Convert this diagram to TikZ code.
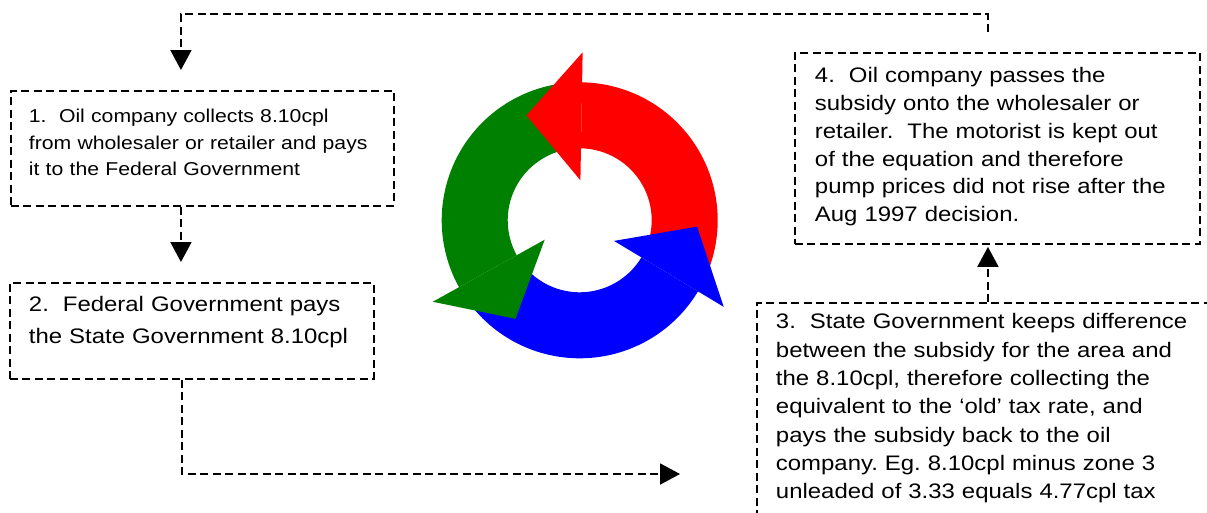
\documentclass[tikz,border=0pt]{standalone}
\usepackage{fontspec}
\setmainfont{Liberation Sans}[FakeStretch=1.14]
\usetikzlibrary{arrows.meta}
\definecolor{cyclered}{RGB}{255,0,0}
\definecolor{cyclegreen}{RGB}{0,128,0}
\definecolor{cycleblue}{RGB}{0,0,255}
\frenchspacing

\begin{document}
\begin{tikzpicture}[x=1pt, y=1pt,
    notebox/.style={draw, dash pattern=on 8pt off 4.5pt, line width=1.9pt, anchor=north west, align=left, inner ysep=0pt},
    link/.style={dash pattern=on 8pt off 4.5pt, line width=1.9pt, -{Triangle[width=21pt,length=20pt]}}]
                \useasboundingbox (0,0) rectangle (1207,-512);
                \clip (0,0) rectangle (1207,-512);

                % Boxes
                \node[notebox, font=\fontsize{18.6}{26.5}\selectfont, text width=347pt, inner xsep=18pt, text height=32pt, text depth=83pt] (box1) at (10,-90)
                    {1.\ \ Oil company collects 8.10cpl\\from wholesaler or retailer and pays\\it to the Federal Government};
                \node[notebox, font=\fontsize{21}{32}\selectfont, text width=326pt, inner xsep=19pt, text height=29pt, text depth=67pt] (box2) at (9,-282)
                    {2.\ \ Federal Government pays\\the State Government 8.10cpl};
                \node[notebox, font=\fontsize{21}{28.3}\selectfont, text width=424pt, inner xsep=19pt, text height=26pt, text depth=230pt] (box3) at (756,-302)
                    {3.\ \ State Government keeps difference\\between the subsidy for the area and\\the 8.10cpl, therefore collecting the\\equivalent to the ‘old’ tax rate, and\\pays the subsidy back to the oil\\company. Eg. 8.10cpl minus zone 3\\unleaded of 3.33 equals 4.77cpl tax};
                \node[notebox, font=\fontsize{21}{27.8}\selectfont, text width=365pt, inner xsep=20pt, text height=29.7pt, text depth=161.3pt] (box4) at (794,-52)
                    {4.\ \ Oil company passes the\\subsidy onto the wholesaler or\\retailer.\ \ The motorist is kept out\\of the equation and therefore\\pump prices did not rise after the\\Aug 1997 decision.};
                \coordinate (end23) at (680,-474);

                % Links
                \draw[link, shorten <=20pt, shorten >=20pt] ([xshift=-9.5pt]box4.north) -- ++(0,38) -| ([xshift=-21.5pt]box1.north);
                \draw[link, shorten >=20pt] ([xshift=-21.5pt]box1.south) -- ([xshift=-21.5pt]box1.south |- box2.north);
                \draw[link] ([xshift=-10pt]box2.south) |- (end23);
                \draw[link, shorten >=2pt] (box3.north) -- (box3.north |- box4.south);

                % Cycle arrows
                \begin{scope}[shift={(579.7,-220.3)}]
                    \fill[cyclered] (-26:138) arc[start angle=-26, end angle=89, radius=138] -- (89:72) arc[start angle=89, end angle=-26, radius=72] -- cycle;
                    \fill[cyclegreen] (94:138) arc[start angle=94, end angle=209, radius=138] -- (209:72) arc[start angle=209, end angle=94, radius=72] -- cycle;
                    \fill[cycleblue] (214:138) arc[start angle=214, end angle=329, radius=138] -- (329:72) arc[start angle=329, end angle=214, radius=72] -- cycle;
                    \fill[cyclered] (89:40) -- (89:168) -- (116.9:117.6) -- cycle;
                    \fill[cyclegreen] (209:40) -- (209:168) -- (236.9:117.6) -- cycle;
                    \fill[cycleblue] (329:40) -- (329:168) -- (356.9:117.6) -- cycle;
                \end{scope}
\end{tikzpicture}
\end{document}
